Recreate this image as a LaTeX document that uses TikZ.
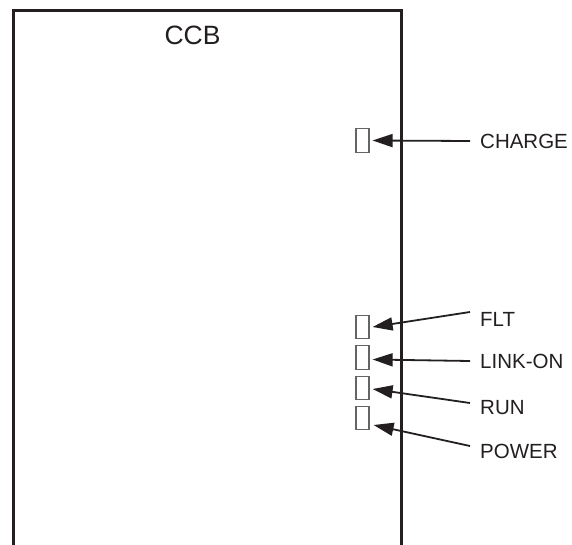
\documentclass[tikz,border=0pt]{standalone}
\usepackage{fontspec}
\setmainfont{Liberation Sans}
\usepackage{tikz}
\usetikzlibrary{arrows.meta,positioning}
\usepackage{xcolor}
\definecolor{inkdark}{RGB}{35,31,32}
\definecolor{ledgray}{RGB}{100,100,100}
\tikzset{
  cabinet/.style={draw=inkdark,line width=3pt},
  ledbox/.style={draw=ledgray,line width=1.2pt,minimum width=13pt,minimum height=23.5pt,inner sep=0pt},
  ledlabel/.style={anchor=west,inner xsep=10pt,inner ysep=0pt,font=\fontsize{20.5}{23}\selectfont,text=inkdark},
  titletext/.style={font=\fontsize{26.5}{30}\selectfont,text=inkdark,inner sep=0pt},
  pointer/.style={-{Triangle[length=20pt,width=13pt]},line width=1.8pt,draw=inkdark}
}

\begin{document}
\begin{tikzpicture}[x=1pt,y=-1pt]
  \useasboundingbox (0,0) rectangle (572,545);
  % CCB housing, open at the bottom
  \draw[cabinet] (13,546) -- (13,11) -- (401,11) -- (401,546);
  \node[titletext] (ccb) at (192.5,35) {CCB};
  % indicator lamps
  \node[ledbox] (ledchg) at (362.5,140.5) {};
  \node[ledbox] (ledflt) at (362.5,327) {};
  \node[ledbox] (ledlink) at (362.5,357.5) {};
  \node[ledbox] (ledrun) at (362.5,388) {};
  \node[ledbox] (ledpwr) at (362.5,418) {};
  % names
  \node[ledlabel] (chg) at (470,141) {CHARGE};
  \node[ledlabel] (flt) at (470,319) {FLT};
  \node[ledlabel] (link) at (470,361) {LINK-ON};
  \node[ledlabel] (run) at (470,408) {RUN};
  \node[ledlabel] (pwr) at (470,451) {POWER};
  \draw[pointer] (chg.west) -- ([xshift=3pt]ledchg.east);
  \draw[pointer] ([yshift=7pt]flt.west) -- ([xshift=3pt]ledflt.east);
  \draw[pointer] (link.west) -- ([xshift=3pt,yshift=-2pt]ledlink.east);
  \draw[pointer] ([yshift=5pt]run.west) -- ([xshift=3pt,yshift=-1pt]ledrun.east);
  \draw[pointer] ([yshift=5pt]pwr.west) -- ([xshift=4pt,yshift=-7pt]ledpwr.east);
\end{tikzpicture}
\end{document}
